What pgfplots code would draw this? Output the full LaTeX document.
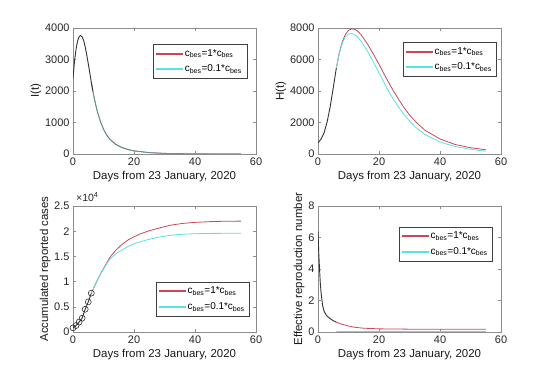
\documentclass[border=0pt]{standalone}
\usepackage{fontspec}
\setmainfont{Liberation Sans}
\usepackage{pgfplots}
\pgfplotsset{compat=1.18}
\definecolor{cred}{RGB}{205,70,85}
\definecolor{ccyan}{RGB}{90,225,225}
\definecolor{cblack}{RGB}{50,50,50}
\pgfplotsset{
  panel/.style={
    scale only axis, width=183bp, height=126bp,
    xmin=0, xmax=60, xtick={0,20,40,60},
    tick align=inside, major tick length=3bp,
    axis line style={black!45, line width=0.6bp},
    every tick/.style={black!45},
    /pgf/number format/assume math mode=true,
    /pgf/number format/set thousands separator={},
    tick label style={font=\fontsize{11}{12}\selectfont, text=black!85},
    label style={font=\fontsize{11.5}{13}\selectfont, text=black!90},
    xlabel={Days from 23 January, 2020},
    xlabel style={yshift=1bp},
    ylabel style={yshift=-3bp},
    legend style={font=\fontsize{10}{11}\selectfont, draw=black!75, line width=0.5bp,
      fill=white, inner xsep=3bp, inner ysep=3bp, row sep=3bp},
    legend cell align=left,
  },
  rl/.style={color=cred, line width=0.8bp},
  cl/.style={color=ccyan, line width=0.8bp},
  bl/.style={color=cblack, line width=0.9bp},
  legred/.style={legend image code/.code={\fill[cred] (0bp,-0.5bp) rectangle (26bp,0.5bp);}},
  legcyan/.style={legend image code/.code={\fill[ccyan] (0bp,-0.5bp) rectangle (26bp,0.5bp);}},
}
\begin{document}
\begin{tikzpicture}[x=1bp,y=1bp]
\useasboundingbox (0,0) rectangle (554,373);
% ---------- I(t)
\begin{axis}[panel, at={(73bp,219bp)}, anchor=south west,
  ymin=0, ymax=4000, ytick={0,1000,2000,3000,4000}, ylabel={I(t)},
  legend style={at={(0.951,0.873)}, anchor=north east}]
\addplot[rl, legred] coordinates {(6,2280) (6.5,2000) (7,1760) (7.5,1540) (8,1345) (9,1030) (10,790) (11,610) (12,480) (14,310) (16,210) (18,145) (20,102) (25,45) (30,21) (35,10) (40,5) (45,3) (50,2) (55,1)};
\addlegendentry{c\textsubscript{bes}=1*c\textsubscript{bes}}
\addplot[cl, legcyan] coordinates {(6,2280) (6.5,2000) (7,1760) (7.5,1540) (8,1340) (9,1020) (10,780) (11,600) (12,470) (14,300) (16,200) (18,135) (20,95) (25,40) (30,18) (35,9) (40,5) (45,3) (50,2) (55,1)};
\addlegendentry{c\textsubscript{bes}=0.1*c\textsubscript{bes}}
\addplot[bl, forget plot] coordinates {(0,2400) (0.5,2950) (1,3330) (1.5,3590) (2,3720) (2.5,3760) (3,3720) (3.5,3600) (4,3400) (4.5,3150) (5,2870) (5.5,2580) (6,2280) (6.5,2000)};
\addplot[color=cblack!70, line width=0.5bp, forget plot] coordinates {(6.5,2000) (7,1760) (7.5,1540) (8,1342) (9,1025) (10,785) (11,605) (12,475) (14,305) (16,205) (18,140) (20,98) (25,42) (30,19) (35,9) (40,5) (45,3) (50,2) (55,1)};
\end{axis}
% ---------- H(t)
\begin{axis}[panel, at={(318bp,219bp)}, anchor=south west,
  ymin=0, ymax=8000, ytick={0,2000,4000,6000,8000}, ylabel={H(t)},
  legend style={at={(0.978,0.889)}, anchor=north east}]
\addplot[rl, legred] coordinates {(6,5450) (7,6450) (8,7150) (9,7600) (10,7850) (11,7940) (12,7920) (13,7800) (14,7600) (16,7050) (18,6400) (20,5700) (22,4950) (24,4250) (26,3600) (28,3000) (30,2480) (32,2050) (35,1520) (40,950) (45,600) (50,400) (55,270)};
\addlegendentry{c\textsubscript{bes}=1*c\textsubscript{bes}}
\addplot[cl, legcyan] coordinates {(6,5450) (7,6400) (8,7050) (9,7450) (10,7620) (11,7650) (12,7580) (13,7420) (14,7200) (16,6600) (18,5900) (20,5150) (22,4400) (24,3700) (26,3100) (28,2550) (30,2100) (32,1700) (35,1250) (40,760) (45,470) (50,300) (55,180)};
\addlegendentry{c\textsubscript{bes}=0.1*c\textsubscript{bes}}
\addplot[bl, forget plot] coordinates {(0,700) (1,950) (2,1350) (3,2050) (4,3000) (5,4200) (6,5450)};
\end{axis}
% ---------- Accumulated
\begin{axis}[panel, at={(73bp,41bp)}, anchor=south west,
  ymin=0, ymax=25000, ytick={0,5000,10000,15000,20000,25000},
  scaled y ticks=base 10:-4,
  ytick scale label code/.code={\fontsize{10.5}{12}\selectfont ×10\textsuperscript{#1}},
  ylabel={Accumulated reported cases},
  legend style={at={(0.967,0.126)}, anchor=south east}]
\addplot[rl, legred] coordinates {(6,7711) (7,9000) (8,10300) (9,11500) (10,12600) (11,13650) (12,14700) (13,15500) (14,16200) (16,17350) (18,18250) (20,18900) (22,19450) (25,20100) (28,20600) (32,21200) (36,21550) (40,21750) (45,21900) (50,21980) (55,22000)};
\addlegendentry{c\textsubscript{bes}=1*c\textsubscript{bes}}
\addplot[cl, legcyan] coordinates {(6,7711) (7,9000) (8,10300) (9,11450) (10,12500) (11,13500) (12,14350) (13,15000) (14,15500) (16,16250) (18,16950) (20,17500) (22,17900) (25,18400) (28,18800) (32,19200) (36,19400) (40,19500) (45,19560) (55,19600)};
\addlegendentry{c\textsubscript{bes}=0.1*c\textsubscript{bes}}
\addplot[bl, forget plot] coordinates {(0,830) (1,1287) (2,1975) (3,2744) (4,4515) (5,5974) (6,7711)};
\addplot[only marks, mark=o, mark size=3bp, color=cblack, mark options={line width=0.6bp}, forget plot] coordinates {(0,830) (1,1287) (2,1975) (3,2744) (4,4515) (5,5974) (6,7711)};
\end{axis}
% ---------- Effective R
\begin{axis}[panel, at={(318bp,41bp)}, anchor=south west,
  ymin=0, ymax=8, ytick={0,2,4,6,8}, ylabel={Effective reproduction number},
  legend style={at={(0.956,0.835)}, anchor=north east}]
\addplot[rl, legred] coordinates {(6,0.62) (7,0.55) (8,0.48) (10,0.38) (12,0.30) (15,0.24) (20,0.20) (30,0.18) (40,0.18) (55,0.18)};
\addlegendentry{c\textsubscript{bes}=1*c\textsubscript{bes}}
\addplot[cl, legcyan] coordinates {(6,0.04) (10,0.03) (20,0.03) (30,0.03) (40,0.03) (55,0.03)};
\addlegendentry{c\textsubscript{bes}=0.1*c\textsubscript{bes}}
\addplot[bl, forget plot] coordinates {(0,6.4) (0.25,5.0) (0.5,4.0) (0.75,3.1) (1,2.5) (1.5,1.7) (2,1.3) (3,1.0) (4,0.85) (5,0.72) (6,0.62)};
\end{axis}
\end{tikzpicture}
\end{document}
